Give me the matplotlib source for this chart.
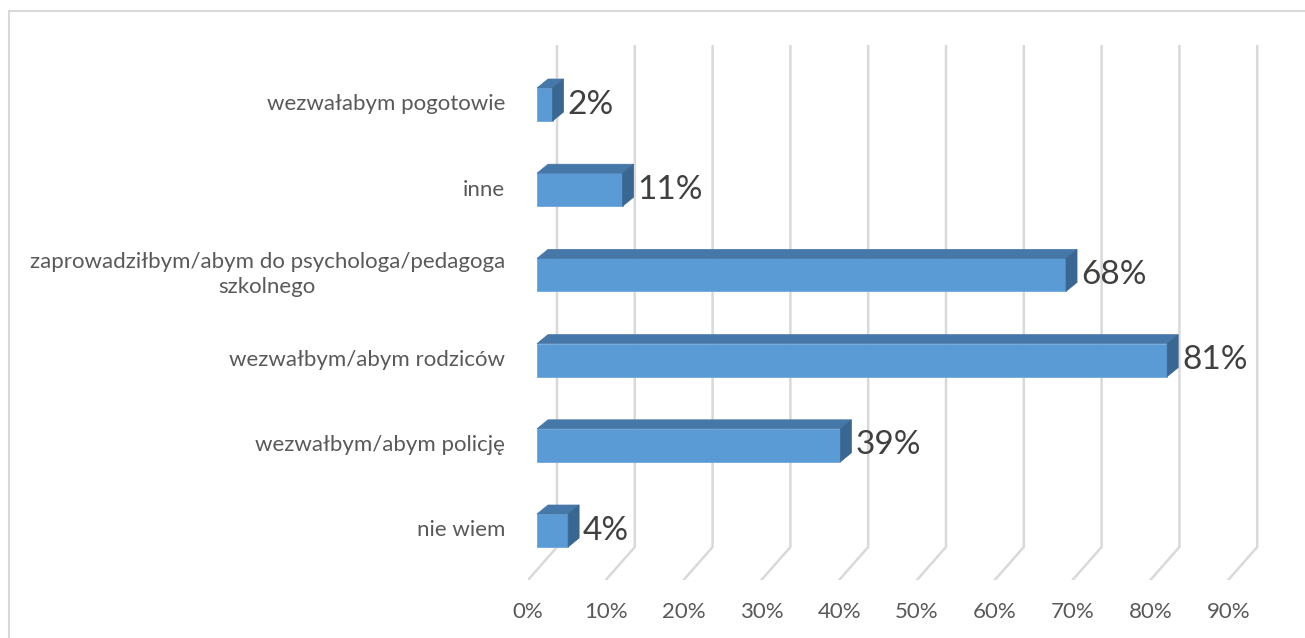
import numpy as np
import matplotlib.pyplot as plt
from matplotlib.patches import Polygon, Rectangle

# dane
kategorie = ['nie wiem', 'wezwałbym/abym policję', 'wezwałbym/abym rodziców',
             'zaprowadziłbym/abym do psychologa/pedagoga\nszkolnego', 'inne',
             'wezwałabym pogotowie']
wartosci = [4, 39, 81, 68, 11, 2]
ticks = [0, 10, 20, 30, 40, 50, 60, 70, 80, 90]
tick_labels = [f'{t}%' for t in ticks]

plt.rcParams['font.family'] = ['Lato', 'DejaVu Sans']

W, H = 1305, 638
fig = plt.figure(figsize=(W / 100, H / 100), dpi=100)

# ramka wykresu
fig.add_artist(Rectangle((9 / W, -0.1), 1.2, 1 - 11 / H + 0.1, transform=fig.transFigure,
                         fill=False, ec='#d9d9d9', lw=1.5))

# os: px 528..1260 (x), 45..580 (y)
ax = fig.add_axes([528 / W, 1 - 580 / H, (1260 - 528) / W, (580 - 45) / H])
px_x = 7.78    # px na 1%
px_y = 85.2    # px na kategorie
ax.set_xlim((528 - 537) / px_x, (1260 - 537) / px_x)
ax.set_ylim(-(580 - 530.5) / px_y, (530.5 - 45) / px_y)
ax.axis('off')

# glebokosc 3D
gx_f = (528 - 537) / px_x     # przod siatki
gx_b = (557 - 537) / px_x     # tyl siatki
gy_f = -(580 - 530.5) / px_y
gy_b = -(547 - 530.5) / px_y
gy_top = (530.5 - 46) / px_y

for t, lab in zip(ticks, tick_labels):
    ax.plot([t + gx_f, t + gx_b, t + gx_b], [gy_f, gy_b, gy_top],
            color='#d9d9d9', lw=1.8, solid_joinstyle='miter', zorder=1)
    ax.text(t + gx_f, gy_f - 32 / px_y, lab, ha='center', va='center',
            fontsize=16, color='#595959')

dx = 11 / px_x
dy = 9 / px_y
h = 33 / px_y
y = np.arange(len(kategorie))
ax.barh(y, wartosci, height=h, color='#5b9bd5', edgecolor='#6fa6da', lw=0.6, zorder=3)
for yi, v in zip(y, wartosci):
    top = yi + h / 2
    bot = yi - h / 2
    ax.add_patch(Polygon([(0, top), (dx, top + dy), (v + dx, top + dy), (v, top)],
                         closed=True, fc='#4577a8', ec='#4577a8', lw=0.5, zorder=3))
    ax.add_patch(Polygon([(v, top), (v + dx, top + dy), (v + dx, bot + dy), (v, bot)],
                         closed=True, fc='#3a6791', ec='#3a6791', lw=0.5, zorder=3))
    ax.text(v + dx + 4 / px_x, yi, f'{v}%', ha='left', va='center',
            fontsize=24, color='#404040', zorder=4)

for yi, k in zip(y, kategorie):
    ax.text(gx_f - 23 / px_x, yi, k, ha='right', va='center', fontsize=16,
            color='#595959', multialignment='center', linespacing=1.3)

fig.savefig('out.png', dpi=100)
